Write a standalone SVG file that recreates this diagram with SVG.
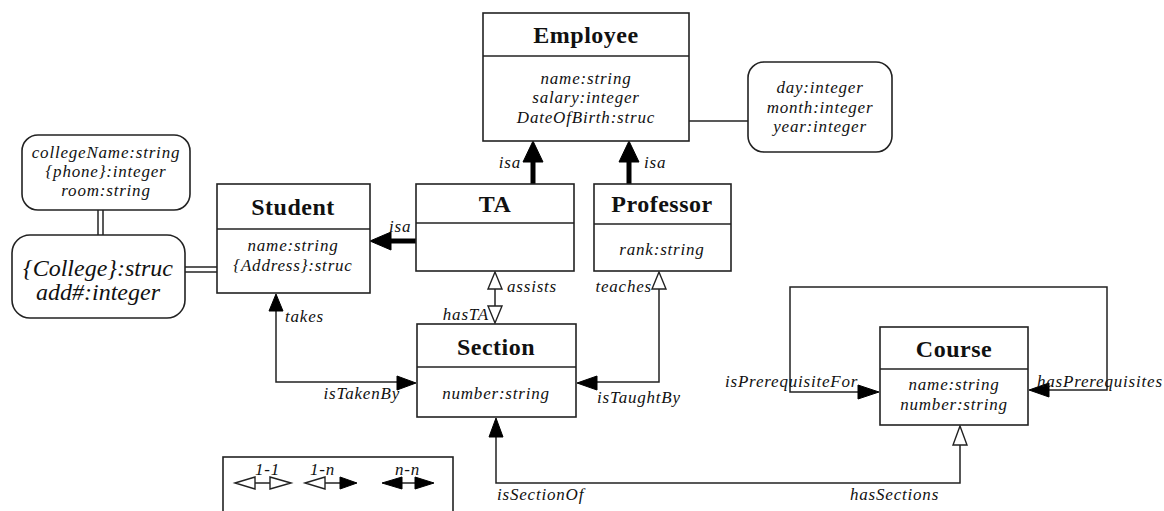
<svg xmlns="http://www.w3.org/2000/svg" width="1164" height="511" viewBox="0 0 1164 511">
<style>
  .box{fill:#fff;stroke:#222;stroke-width:1.6}
  .rbox{fill:#fff;stroke:#222;stroke-width:1.6}
  .ln{fill:none;stroke:#222;stroke-width:1.5}
  .thick{fill:none;stroke:#000;stroke-width:5}
  .fill{fill:#000;stroke:#000;stroke-width:1}
  .open{fill:#fff;stroke:#222;stroke-width:1.4}
  .title{font-family:"Liberation Serif","Times New Roman",serif;font-weight:bold;font-size:24px;letter-spacing:0.5px;fill:#111;text-anchor:middle}
  .attr{font-family:"Liberation Serif","Times New Roman",serif;font-style:italic;font-size:17px;letter-spacing:0.8px;fill:#111;text-anchor:middle}
  .big{font-family:"Liberation Serif","Times New Roman",serif;font-style:italic;font-size:24px;fill:#111;text-anchor:middle}
  .lbl{font-family:"Liberation Serif","Times New Roman",serif;font-style:italic;font-size:17px;letter-spacing:0.8px;fill:#111}
</style>

<g id="connectors">
  <!-- Employee to DateOfBirth struct -->
  <line class="ln" x1="687" y1="121" x2="748" y2="121"/>
  <!-- College double lines -->
  <line class="ln" x1="98" y1="210" x2="98" y2="235"/>
  <line class="ln" x1="103" y1="210" x2="103" y2="235"/>
  <line class="ln" x1="185" y1="267" x2="217" y2="267"/>
  <line class="ln" x1="185" y1="272" x2="217" y2="272"/>
  <!-- isa TA -> Employee -->
  <line class="thick" x1="533" y1="184" x2="533" y2="160"/>
  <polygon class="fill" points="533,141 523,162 543,162"/>
  <text class="lbl" x="521" y="168" text-anchor="end">isa</text>
  <!-- isa Professor -> Employee -->
  <line class="thick" x1="629" y1="184" x2="629" y2="160"/>
  <polygon class="fill" points="629,141 619,162 639,162"/>
  <text class="lbl" x="644" y="168">isa</text>
  <!-- isa TA -> Student -->
  <line class="thick" x1="416" y1="241" x2="389" y2="241"/>
  <polygon class="fill" points="370,241 391,232 391,250"/>
  <text class="lbl" x="389" y="232">isa</text>
  <!-- assists / hasTA -->
  <line class="ln" x1="495" y1="289" x2="495" y2="306"/>
  <polygon class="open" points="495,272 488,289 502,289"/>
  <polygon class="open" points="495,323 488,306 502,306"/>
  <text class="lbl" x="507" y="292">assists</text>
  <text class="lbl" x="489" y="320" text-anchor="end">hasTA</text>
  <!-- teaches / isTaughtBy -->
  <polyline class="ln" points="659,289 659,382 596,382"/>
  <polygon class="open" points="659,272 652,289 666,289"/>
  <polygon class="fill" points="577,383 597,376 597,390"/>
  <text class="lbl" x="652" y="292" text-anchor="end">teaches</text>
  <text class="lbl" x="597" y="403">isTaughtBy</text>
  <!-- takes / isTakenBy -->
  <polyline class="ln" points="276,310 276,382 398,382"/>
  <polygon class="fill" points="276,294 269,311 283,311"/>
  <polygon class="fill" points="416,383 397,376 397,390"/>
  <text class="lbl" x="285" y="322">takes</text>
  <text class="lbl" x="400" y="399" text-anchor="end">isTakenBy</text>
  <!-- isSectionOf / hasSections -->
  <polyline class="ln" points="496,436 496,483 960,483 960,445"/>
  <polygon class="fill" points="496,418 489,437 503,437"/>
  <polygon class="open" points="960,426 953,445 967,445"/>
  <text class="lbl" x="497" y="500">isSectionOf</text>
  <text class="lbl" x="850" y="500">hasSections</text>
  <!-- Course self loop -->
  <polyline class="ln" points="859,392 790,392 790,287 1107,287 1107,390 1048,390"/>
  <polygon class="fill" points="879,392 858,385 858,399"/>
  <polygon class="fill" points="1029,390 1049,383 1049,397"/>
  <text class="lbl" x="725" y="387">isPrerequisiteFor</text>
  <text class="lbl" x="1037" y="387">hasPrerequisites</text>
</g>

<g id="employee">
  <rect class="box" x="483" y="13" width="206" height="128"/>
  <line class="ln" x1="483" y1="56" x2="689" y2="56"/>
  <text class="title" x="586" y="43">Employee</text>
  <text class="attr" x="586" y="84">name:string</text>
  <text class="attr" x="586" y="103">salary:integer</text>
  <text class="attr" x="586" y="123">DateOfBirth:struc</text>
</g>

<g id="dateofbirth">
  <rect class="rbox" x="748" y="62" width="144" height="90" rx="16" ry="16"/>
  <text class="attr" x="820" y="93">day:integer</text>
  <text class="attr" x="820" y="113">month:integer</text>
  <text class="attr" x="820" y="132">year:integer</text>
</g>

<g id="ta">
  <rect class="box" x="416" y="184" width="158" height="87"/>
  <line class="ln" x1="416" y1="223" x2="574" y2="223"/>
  <text class="title" x="495" y="212">TA</text>
</g>

<g id="professor">
  <rect class="box" x="594" y="184" width="137" height="87"/>
  <line class="ln" x1="594" y1="224" x2="731" y2="224"/>
  <text class="title" x="662" y="212">Professor</text>
  <text class="attr" x="662" y="255">rank:string</text>
</g>

<g id="student">
  <rect class="box" x="217" y="184" width="153" height="109"/>
  <line class="ln" x1="217" y1="229" x2="370" y2="229"/>
  <text class="title" x="293" y="215">Student</text>
  <text class="attr" x="293" y="251">name:string</text>
  <text class="attr" x="293" y="271">{Address}:struc</text>
</g>

<g id="collegeinfo">
  <rect class="rbox" x="22" y="135" width="168" height="75" rx="16" ry="16"/>
  <text class="attr" x="106" y="158">collegeName:string</text>
  <text class="attr" x="106" y="177">{phone}:integer</text>
  <text class="attr" x="106" y="196">room:string</text>
</g>

<g id="address">
  <rect class="rbox" x="12" y="235" width="173" height="83" rx="18" ry="18"/>
  <text class="big" x="98" y="276">{College}:struc</text>
  <text class="big" x="98" y="300">add#:integer</text>
</g>

<g id="section">
  <rect class="box" x="417" y="324" width="159" height="93"/>
  <line class="ln" x1="417" y1="367" x2="576" y2="367"/>
  <text class="title" x="496" y="355">Section</text>
  <text class="attr" x="496" y="399">number:string</text>
</g>

<g id="course">
  <rect class="box" x="880" y="327" width="148" height="98"/>
  <line class="ln" x1="880" y1="369" x2="1028" y2="369"/>
  <text class="title" x="954" y="357">Course</text>
  <text class="attr" x="954" y="390">name:string</text>
  <text class="attr" x="954" y="410">number:string</text>
</g>

<g id="legend">
  <rect class="box" x="223" y="457" width="230" height="70"/>
  <text class="lbl" x="255" y="475">1-1</text>
  <text class="lbl" x="310" y="475">1-n</text>
  <text class="lbl" x="395" y="475">n-n</text>
  <line class="ln" x1="255" y1="483" x2="270" y2="483"/>
  <polygon class="open" points="235,483 255,477 255,489"/>
  <polygon class="open" points="291,483 270,477 270,489"/>
  <line class="ln" x1="325" y1="483" x2="340" y2="483"/>
  <polygon class="open" points="305,483 325,477 325,489"/>
  <polygon class="fill" points="357,483 340,477 340,489"/>
  <line class="ln" x1="402" y1="483" x2="415" y2="483"/>
  <polygon class="fill" points="382,483 402,477 402,489"/>
  <polygon class="fill" points="434,483 415,477 415,489"/>
</g>
</svg>
